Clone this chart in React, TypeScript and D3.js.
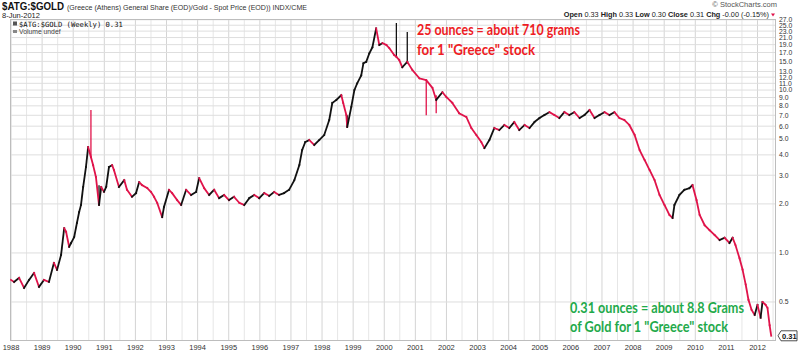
import React from "react";
import * as d3 from "d3";

// Weekly close series (decimal year, ratio value)
const years = [
  1988.0, 1988.1, 1988.26, 1988.42, 1988.58, 1988.74, 1988.9, 1989.06, 1989.22, 1989.38,
  1989.48, 1989.61, 1989.71, 1989.77, 1989.87, 1989.93, 1990.03, 1990.12, 1990.19, 1990.25,
  1990.32, 1990.41, 1990.48, 1990.57, 1990.64, 1990.73, 1990.83, 1990.9, 1990.99, 1991.06,
  1991.15, 1991.25, 1991.31, 1991.47, 1991.64, 1991.73, 1991.89, 1992.02, 1992.12, 1992.21,
  1992.38, 1992.5, 1992.6, 1992.7, 1992.86, 1992.92, 1993.08, 1993.18, 1993.34, 1993.47,
  1993.63, 1993.79, 1993.95, 1994.05, 1994.21, 1994.37, 1994.53, 1994.69, 1994.85, 1995.01,
  1995.17, 1995.34, 1995.5, 1995.66, 1995.82, 1995.98, 1996.14, 1996.3, 1996.46, 1996.62,
  1996.78, 1996.94, 1997.11, 1997.27, 1997.36, 1997.46, 1997.59, 1997.75, 1997.91, 1998.07,
  1998.23, 1998.33, 1998.46, 1998.62, 1998.68, 1998.78, 1998.81, 1998.94, 1999.04, 1999.13,
  1999.26, 1999.33, 1999.42, 1999.52, 1999.62, 1999.74, 1999.84, 1999.94, 2000.07, 2000.16,
  2000.32, 2000.39, 2000.48, 2000.58, 2000.74, 2000.9, 2001.13, 2001.35, 2001.55, 2001.67,
  2001.87, 2002.0, 2002.19, 2002.41, 2002.64, 2002.8, 2002.96, 2003.12, 2003.22, 2003.38,
  2003.54, 2003.7, 2003.86, 2004.02, 2004.18, 2004.34, 2004.51, 2004.67, 2004.83, 2004.99,
  2005.15, 2005.31, 2005.47, 2005.63, 2005.79, 2005.95, 2006.11, 2006.28, 2006.44, 2006.6,
  2006.76, 2006.92, 2007.08, 2007.24, 2007.4, 2007.56, 2007.72, 2007.88, 2008.05, 2008.21,
  2008.37, 2008.53, 2008.69, 2008.85, 2009.01, 2009.17, 2009.27, 2009.33, 2009.49, 2009.65,
  2009.81, 2009.91, 2010.04, 2010.14, 2010.3, 2010.46, 2010.62, 2010.78, 2010.94, 2011.1,
  2011.2, 2011.29, 2011.42, 2011.52, 2011.62, 2011.71, 2011.81, 2011.91, 2012.0, 2012.1,
  2012.16, 2012.26, 2012.32, 2012.39, 2012.44,
];
const closes = [
  0.683, 0.664, 0.703, 0.61, 0.683, 0.754, 0.619, 0.683, 0.664, 0.868,
  0.787, 0.972, 1.42, 1.35, 1.09, 1.15, 1.25, 1.53, 1.78, 1.97,
  2.54, 3.37, 4.47, 3.88, 3.46, 2.93, 1.97, 2.54, 2.37, 2.54,
  3.37, 3.46, 3.23, 2.54, 2.8, 2.44, 2.21, 2.33, 2.72, 2.61,
  2.5, 2.37, 2.21, 2.03, 1.66, 1.92, 2.44, 2.33, 2.11, 1.97,
  2.44, 2.27, 2.37, 2.88, 2.5, 2.27, 2.44, 2.17, 2.27, 2.11,
  2.21, 2.03, 1.97, 2.17, 2.27, 2.17, 2.33, 2.24, 2.37, 2.27,
  2.33, 2.44, 2.8, 3.46, 4.28, 4.79, 4.93, 4.6, 4.93, 5.3,
  6.54, 8.34, 8.7, 9.31, 8.34, 7.03, 5.93, 7.87, 10.0, 11.0,
  12.3, 14.6, 14.9, 16.8, 18.3, 23.9, 18.9, 19.4, 18.9, 18.1,
  16.4, 16.0, 15.3, 13.8, 14.9, 13.3, 11.8, 11.5, 10.3, 8.7,
  9.7, 9.05, 8.34, 7.2, 6.83, 5.85, 5.3, 4.79, 4.4, 4.93,
  5.85, 5.68, 6.1, 5.85, 6.36, 5.68, 6.1, 5.85, 6.36, 6.73,
  7.03, 7.32, 7.03, 6.73, 7.32, 7.03, 7.32, 6.73, 7.03, 7.54,
  6.73, 7.03, 7.32, 7.03, 7.32, 6.73, 6.54, 6.1, 5.3, 4.28,
  3.72, 3.23, 2.8, 2.27, 1.97, 1.71, 1.64, 1.97, 2.27, 2.44,
  2.5, 2.61, 2.11, 1.71, 1.48, 1.38, 1.29, 1.2, 1.24, 1.15,
  1.24, 1.12, 0.93, 0.79, 0.64, 0.515, 0.447, 0.416, 0.48, 0.4,
  0.5, 0.48, 0.46, 0.36, 0.31,
];

// Intra-week extreme wicks
const spikeYears = [1990.57, 1990.83, 1998.81, 2000.39, 2000.74, 2001.35, 2001.67];
const spikeHighs = [7.54, 2.6, 7.0, 25.8, 22.7, 11.5, 9.3];
const spikeLows = [3.9, 1.97, 5.93, 15.8, 14.5, 7.0, 7.2];
const spikeUp = [false, true, true, true, true, false, false];

const yTicks = [0.5, 1, 2, 3, 4, 5, 6, 7, 8, 9, 10, 11, 12, 13, 15, 17, 19, 21, 23, 25, 27];
const xYears = d3.range(1988, 2013);

const W = 800;
const H = 355;
const L = 10;
const R = 776;
const T = 19;
const B = 341;

const RED = "#e0134a";

export default function App() {
  const x = d3.scaleLinear().domain([1988, 2012]).range([11, 757.5]);
  const y = d3.scaleLog().domain([0.288, 27.3]).range([B, T]);

  const halfYears = d3.range(1988, 2012.6, 0.5);

  const segs = closes.slice(1).map((v, i) => ({
    x1: x(years[i]),
    y1: y(closes[i]),
    x2: x(years[i + 1]),
    y2: y(v),
    up: v >= closes[i],
  }));

  const last = closes[closes.length - 1];
  const ly = y(last);

  return (
    <svg width={W} height={H} style={{ display: "block", position: "absolute", left: 0, top: 0 }}
      fontFamily="'Liberation Sans', Arial, sans-serif">
      <rect x={0} y={0} width={W} height={H} fill="#fff" />
      <defs>
        <clipPath id="plot">
          <rect x={L} y={T} width={R - L} height={B - T} />
        </clipPath>
      </defs>

      {/* Header */}
      <text x={2} y={10} fontSize={10.5} fontWeight="bold" fill="#111" textLength={62} lengthAdjust="spacingAndGlyphs">$ATG:$GOLD</text>
      <text x={67} y={10} fontSize={7} fill="#333" textLength={240} lengthAdjust="spacingAndGlyphs">(Greece (Athens) General Share (EOD)/Gold - Spot Price (EOD)) INDX/CME</text>
      <text x={2} y={18} fontSize={7.5} fill="#222">8-Jun-2012</text>
      <text x={777} y={7} fontSize={7.5} fill="#555" textAnchor="end">© StockCharts.com</text>
      <text x={769} y={17} fontSize={7.3} fill="#222" textAnchor="end">
        <tspan fontWeight="bold">Open</tspan> 0.33 <tspan fontWeight="bold">High</tspan> 0.33{" "}
        <tspan fontWeight="bold">Low</tspan> 0.30 <tspan fontWeight="bold">Close</tspan> 0.31{" "}
        <tspan fontWeight="bold">Chg</tspan> -0.00 (-0.15%)
      </text>
      <path d="M771,13.5 L775,13.5 L773,16.5 Z" fill={RED} />

      {/* Grid */}
      {halfYears.map((yr) => (
        <line key={"v" + yr} x1={x(yr)} x2={x(yr)} y1={T} y2={B}
          stroke={Number.isInteger(yr) ? "#d4d4d4" : "#e6e6e6"} strokeWidth={1} />
      ))}
      {yTicks.map((t) => (
        <line key={"h" + t} x1={L} x2={R} y1={y(t)} y2={y(t)} stroke="#dedede" strokeWidth={1} />
      ))}
      <rect x={L + 0.5} y={T + 0.5} width={R - L - 1} height={B - T - 1} fill="none" stroke="#bdbdbd" />

      {/* Legend inside plot */}
      <g>
        <rect x={13} y={21.5} width={4} height={4} fill="#555" />
        <text x={19} y={27} fontSize={7.2} fontFamily="'DejaVu Sans Mono', monospace" fill="#111">$ATG:$GOLD (Weekly) 0.31</text>
        <rect x={13} y={30} width={4} height={3} fill="#888" />
        <text x={19} y={34} fontSize={6.8} fill="#444">Volume undef</text>
      </g>

      {/* Price */}
      <g clipPath="url(#plot)">
        {spikeYears.map((yr, i) => (
          <line key={"s" + i} x1={x(yr)} x2={x(yr)} y1={y(spikeLows[i])} y2={y(spikeHighs[i])}
            stroke={spikeUp[i] ? "#111" : RED} strokeWidth={1.3} />
        ))}
        {segs.map((s, i) => (
          <line key={"p" + i} x1={s.x1} y1={s.y1} x2={s.x2} y2={s.y2}
            stroke={s.up ? "#111" : RED} strokeWidth={1.8} strokeLinecap="square" />
        ))}
      </g>

      {/* Right axis */}
      {yTicks.map((t) => (
        <text key={"yl" + t} x={779} y={y(t) + 2.4} fontSize={6.8} fill="#333">
          {t.toFixed(1)}
        </text>
      ))}

      {/* Last value tag */}
      <path d={`M778,${ly} L781,${ly - 5} L797,${ly - 5} L797,${ly + 5} L781,${ly + 5} Z`}
        fill="#fff" stroke="#222" strokeWidth={0.8} />
      <text x={782} y={ly + 2.8} fontSize={7.5} fontWeight="bold" fill="#111">{last.toFixed(2)}</text>

      {/* Bottom axis */}
      {xYears.map((yr) => (
        <text key={"xl" + yr} x={x(yr)} y={350} fontSize={7.5} fill="#333" textAnchor="middle">{yr}</text>
      ))}

      {/* Annotations */}
      <g fontFamily="Lato, 'Open Sans', sans-serif" fontWeight="bold" fontSize={14.5}>
        <text x={417} y={35} fill="#ee1c24" textLength={163} lengthAdjust="spacingAndGlyphs">25 ounces = about 710 grams</text>
        <text x={417} y={55} fill="#ee1c24" textLength={118} lengthAdjust="spacingAndGlyphs">for 1 "Greece" stock</text>
        <text x={570} y={313} fill="#1faa4b" textLength={174} lengthAdjust="spacingAndGlyphs">0.31 ounces = about 8.8 Grams</text>
        <text x={570} y={332} fill="#1faa4b" textLength={158} lengthAdjust="spacingAndGlyphs">of Gold for 1 "Greece" stock</text>
      </g>
    </svg>
  );
}
